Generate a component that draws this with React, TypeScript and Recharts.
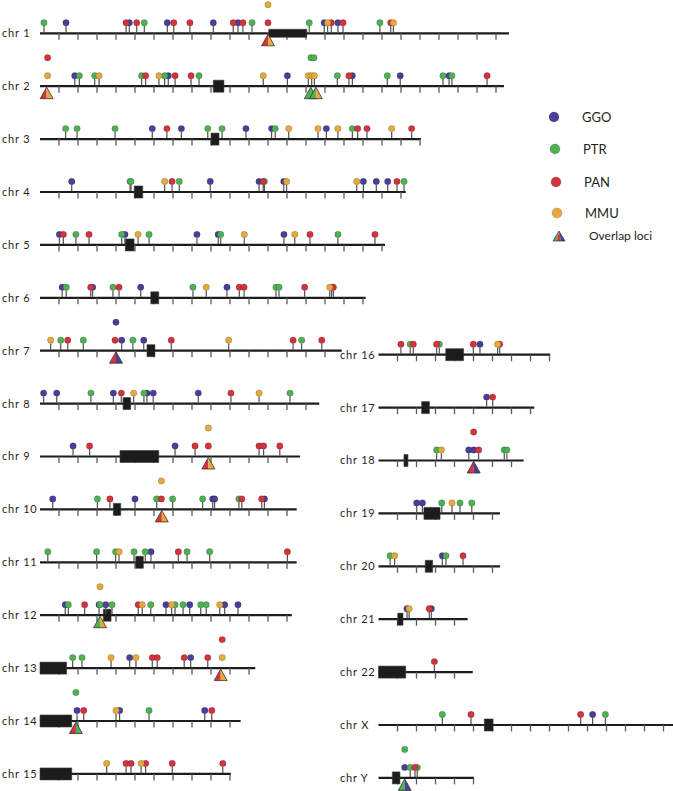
import React from 'react';
import { ScatterChart, Scatter, XAxis, YAxis, ReferenceLine, ReferenceArea, Legend } from 'recharts';

// chromosome layout (lengths / centromeres in Mb)
const LEFT_CHROMS = ['chr 1', 'chr 2', 'chr 3', 'chr 4', 'chr 5', 'chr 6', 'chr 7', 'chr 8', 'chr 9', 'chr 10', 'chr 11', 'chr 12', 'chr 13', 'chr 14', 'chr 15'];
const LEFT_LENGTHS = [246.8, 244.2, 200.5, 192.5, 181.6, 171.4, 158.8, 147, 136.8, 135.1, 135.1, 132.5, 113.3, 105.6, 100.5];
const LEFT_CENTROMERES: [number, number][] = [
  [120.4, 140.4], [91.2, 96.8], [90, 94.2], [49.6, 54.1], [44.9, 49.5], [58.3, 62.5], [56.3, 60.5], [43.7, 47.7],
  [42.1, 62.5], [38.6, 42.5], [50.4, 54.4], [33.3, 37.4], [0, 14], [0, 16.7], [0, 16.7],
];

const RIGHT_CHROMS = ['chr 16', 'chr 17', 'chr 18', 'chr 19', 'chr 20', 'chr 21', 'chr 22', 'chr X', 'chr Y'];
const RIGHT_LENGTHS = [90.4, 82, 76.4, 63.9, 64, 46.9, 49.6, 155, 50.3];
const RIGHT_CENTROMERES: [number, number][] = [
  [35.4, 44.8], [22.7, 26.8], [13.4, 15.5], [23.9, 32.4], [24.6, 28.5], [10.1, 12.9], [0, 14.3], [55.7, 60.3], [7.3, 11.3],
];

// loci per species (Mb)
const GGO_SITES: Record<string, number[]> = {
  'chr 1': [13.7, 47, 67, 91.2, 104.2, 149.6, 156.8],
  'chr 2': [18.3, 67.5, 130.2, 164.4, 189.6, 215.3],
  'chr 3': [59.1, 74.4, 108.4, 121.9, 150.7],
  'chr 4': [16.7, 89.6, 115.3, 128.3, 170.2, 177, 183],
  'chr 5': [10.2, 44.7, 82.6, 93.8, 128.4],
  'chr 6': [11.7, 27.7, 53, 98.4],
  'chr 7': [43, 54.6],
  'chr 8': [1.9, 8.8, 38.6, 56.3, 59.6, 83.3],
  'chr 9': [17.4, 71.1],
  'chr 10': [6.7, 50, 90.9, 91.9, 118.1],
  'chr 11': [58.4],
  'chr 12': [13.3, 31.1, 34.6, 66.3, 78.8, 97.2, 104.2],
  'chr 13': [47.2, 79.3],
  'chr 14': [19.5, 41.9, 86.7],
  'chr 16': [53.4],
  'chr 17': [56.9],
  'chr 18': [47.5],
  'chr 19': [20.1, 23.1],
  'chr 20': [33.6],
  'chr 21': [15, 27.8],
  'chr X': [112.7],
};
const PTR_SITES: Record<string, number[]> = {
  'chr 1': [2.1, 54.9, 111.6, 141.7, 178.9],
  'chr 2': [20.7, 28.8, 53.5, 65.6, 83.7, 156.5, 182.8, 212.1, 216.8],
  'chr 3': [13.5, 19.5, 39.5, 88.3, 95.8, 123.8, 164.4],
  'chr 4': [47.4, 47.9, 73.3, 118.1, 191.6],
  'chr 5': [18.9, 43, 57.4, 95.1, 156.8],
  'chr 6': [13.8, 38.4, 80.5, 124.2, 125.8],
  'chr 7': [10.9, 22.8, 48.9, 137.7],
  'chr 8': [26.8, 54.7, 131.6],
  'chr 10': [30.2, 61.4, 69.8, 85.6, 104.7],
  'chr 11': [4.1, 29.8, 39.8, 49.5, 55.4, 77.4, 89.3],
  'chr 12': [14.9, 37.9, 58.3, 71.1, 75.3, 84.6, 87.5],
  'chr 13': [17.2, 22.1],
  'chr 14': [57.4],
  'chr 16': [16.7, 32],
  'chr 18': [30.6, 66.2, 67.6],
  'chr 19': [33.3, 42.9, 49.1],
  'chr 20': [6.1, 35.5],
  'chr X': [33.6, 119.4],
  'chr Y': [16.7, 20.4],
};
const PAN_SITES: Record<string, number[]> = {
  'chr 1': [45.3, 50.9, 70.4, 78.9, 101.7, 106.8, 153.3, 159.5, 184.6],
  'chr 2': [55.6, 71.1, 79.5, 162.6, 235.3],
  'chr 3': [66.8, 167.2, 172.1, 195.6],
  'chr 4': [69.5, 117.5, 187.9],
  'chr 5': [12.3, 25.8, 142.1, 176.3],
  'chr 6': [26.7, 41.6, 104.9, 107.4, 139.3, 153.5, 154.4],
  'chr 7': [14.6, 69.1, 133.2, 148.3],
  'chr 8': [42.8, 100.5],
  'chr 9': [26.1, 81.6, 115.3, 117.7, 126.2],
  'chr 10': [36.8, 106.2, 116.7],
  'chr 11': [72.8, 130.2],
  'chr 12': [23.5, 51.7],
  'chr 13': [59.1, 61.7, 75.9, 88.3],
  'chr 14': [23, 90.4],
  'chr 15': [45.3, 47.9, 55.6, 69.6, 96.2],
  'chr 16': [11.8, 18.3, 30.6, 49.9, 63.8],
  'chr 17': [60.1],
  'chr 18': [52.7],
  'chr 20': [44.5],
  'chr 21': [26.7],
  'chr 22': [29.4],
  'chr X': [48.7, 106.4],
  'chr Y': [19.2],
};
const MMU_SITES: Record<string, number[]> = {
  'chr 1': [151.4, 186],
  'chr 2': [31.1, 62.6, 117.5, 141.2, 143, 144.4],
  'chr 3': [130.9, 146.3, 156.8, 185.1],
  'chr 4': [65.6, 129.8, 166.7],
  'chr 5': [51.6, 107.5, 134.1],
  'chr 6': [87.5, 152.5],
  'chr 7': [5.6, 99.3],
  'chr 8': [49.3, 115.3],
  'chr 11': [41.6],
  'chr 12': [53.8, 69.3, 94.6],
  'chr 13': [37.4, 50.5],
  'chr 14': [40],
  'chr 15': [35.1, 53.2],
  'chr 16': [62.7],
  'chr 18': [33.1],
  'chr 19': [38.7],
  'chr 20': [8.5],
  'chr 21': [16.1],
};

// circles stacked over an overlap locus: [chrom, Mb, stack level]
const GGO_STACKED: [string, number, number][] = [['chr 7', 40, 2], ['chr 18', 50.1, 1], ['chr Y', 13.8, 1]];
const PTR_STACKED: [string, number, number][] = [
  ['chr 2', 142.6, 2], ['chr 2', 144.2, 2], ['chr 12', 31.6, 1], ['chr 14', 18.9, 2], ['chr Y', 13.8, 2],
];
const PAN_STACKED: [string, number, number][] = [
  ['chr 1', 120, 1], ['chr 2', 4, 2], ['chr 7', 39.5, 1], ['chr 9', 88.6, 1], ['chr 10', 63.9, 1], ['chr 13', 95.9, 2], ['chr 18', 50.1, 2],
];
const MMU_STACKED: [string, number, number][] = [
  ['chr 1', 120, 2], ['chr 2', 4, 1], ['chr 9', 88.6, 2], ['chr 10', 63.9, 2], ['chr 12', 31.6, 2], ['chr 13', 95.9, 1],
];

// overlap loci: [chrom, Mb, species sharing it]
const OVERLAPS: [string, number, string[]][] = [
  ['chr 1', 120, ['PAN', 'MMU']],
  ['chr 2', 3.5, ['PAN', 'MMU']],
  ['chr 2', 142.5, ['PTR']],
  ['chr 2', 145.2, ['PTR', 'MMU']],
  ['chr 7', 40, ['PAN', 'GGO']],
  ['chr 9', 88.6, ['PAN', 'MMU']],
  ['chr 10', 64.1, ['PAN', 'MMU']],
  ['chr 12', 31.6, ['PTR', 'MMU']],
  ['chr 13', 95.1, ['PAN', 'MMU']],
  ['chr 14', 18.9, ['PAN', 'PTR']],
  ['chr 18', 50.1, ['PAN', 'GGO']],
  ['chr Y', 13.8, ['PTR', 'GGO']],
];

const SPECIES = ['GGO', 'PTR', 'PAN', 'MMU'];
const COLORS: Record<string, string> = { GGO: '#4a3f98', PTR: '#4fb153', PAN: '#d2343b', MMU: '#e6aa3c' };
const SITES: Record<string, Record<string, number[]>> = { GGO: GGO_SITES, PTR: PTR_SITES, PAN: PAN_SITES, MMU: MMU_SITES };
const STACKED: Record<string, [string, number, number][]> = { GGO: GGO_STACKED, PTR: PTR_STACKED, PAN: PAN_STACKED, MMU: MMU_STACKED };

const HEIGHT = 791;
const PX_PER_MB = 1.9;
const ROW_GAP = 52.9;
const LINE_COLOR = '#1c1c1c';

const makeLollipop = (color: string) => (props: any) => {
  const { cx, cy, payload } = props;
  if (cx == null || cy == null) return <g />;
  const lift = payload.lvl === 2 ? 28.5 : 10.5;
  const r = 3.2;
  return (
    <g>
      {!payload.lvl && (
        <line x1={cx} x2={cx} y1={cy - 1} y2={cy - lift + r} stroke="#505050" strokeWidth={1.2} />
      )}
      <circle cx={cx} cy={cy - lift} r={r} fill={color} stroke="rgba(0,0,0,0.35)" strokeWidth={0.5} />
    </g>
  );
};

const tickShape = (props: any) => {
  const { cx, cy } = props;
  if (cx == null || cy == null) return <g />;
  return <line x1={cx} x2={cx} y1={cy} y2={cy + 6.5} stroke="#5a5a5a" strokeWidth={1.3} />;
};

const overlapShape = (props: any) => {
  const { cx, cy, payload } = props;
  if (cx == null || cy == null) return <g />;
  const parts: string[] = payload.species;
  const half = 6.5;
  const top = cy + 1;
  const base = cy + 12.5;
  const n = parts.length;
  return (
    <g>
      {parts.map((s, k) => {
        const xa = cx - half + (2 * half * k) / n;
        const xb = cx - half + (2 * half * (k + 1)) / n;
        return <polygon key={k} points={`${cx},${top} ${xa},${base} ${xb},${base}`} fill={COLORS[s]} />;
      })}
      <polygon
        points={`${cx},${top} ${cx - half},${base} ${cx + half},${base}`}
        fill="none"
        stroke="#333"
        strokeWidth={0.8}
        strokeLinejoin="round"
      />
    </g>
  );
};

const LEGEND_ROWS = [12, 44, 77, 108, 131];

function LegendBox() {
  const names = [...SPECIES, 'Overlap loci'];
  return (
    <svg width={130} height={145} style={{ display: 'block' }}>
      {names.map((name, i) => {
        const y = LEGEND_ROWS[i];
        if (name === 'Overlap loci') {
          const cx = 16;
          return (
            <g key={name}>
              {['PTR', 'PAN', 'GGO'].map((s, k) => {
                const xa = cx - 6 + 4 * k;
                return <polygon key={s} points={`${cx},${y - 5} ${xa},${y + 5} ${xa + 4},${y + 5}`} fill={COLORS[s]} />;
              })}
              <polygon points={`${cx},${y - 5} ${cx - 6},${y + 5} ${cx + 6},${y + 5}`} fill="none" stroke="#333" strokeWidth={0.7} />
              <text x={46} y={y + 4} fontSize={12} fill="#231f20" fontFamily="Lato">{name}</text>
            </g>
          );
        }
        return (
          <g key={name}>
            <circle cx={11 + i} cy={y} r={5} fill={COLORS[name]} stroke="rgba(0,0,0,0.3)" strokeWidth={0.5} />
            <text x={39 + i} y={y + 5} fontSize={13} fill="#231f20" fontFamily="Lato">{name}</text>
          </g>
        );
      })}
    </svg>
  );
}

interface ColumnProps {
  chroms: string[];
  lengths: number[];
  centromeres: [number, number][];
  left: number;
  width: number;
  x0: number;
  row0: number;
  withLegend?: boolean;
}

function Column({ chroms, lengths, centromeres, left, width, x0, row0, withLegend }: ColumnProps) {
  const rowOf = (c: string) => chroms.indexOf(c);
  const xDomain = [-x0 / PX_PER_MB, (width - x0) / PX_PER_MB];
  const yDomain = [-row0 / ROW_GAP, (HEIGHT - row0) / ROW_GAP];
  const rows = chroms.map((_, i) => i);

  const tickData = chroms.flatMap((_, i) => {
    const out: { x: number; y: number }[] = [];
    for (let t = 10; t <= lengths[i] + 0.01; t += 10) out.push({ x: t, y: i });
    return out;
  });

  const speciesData = (sp: string) => [
    ...Object.entries(SITES[sp])
      .filter(([c]) => chroms.includes(c))
      .flatMap(([c, ps]) => ps.map((p) => ({ x: p, y: rowOf(c) }))),
    ...STACKED[sp]
      .filter(([c]) => chroms.includes(c))
      .map(([c, p, lvl]) => ({ x: p, y: rowOf(c), lvl })),
  ];

  const overlapData = OVERLAPS.filter(([c]) => chroms.includes(c)).map(([c, p, species]) => ({
    x: p,
    y: rowOf(c),
    species,
  }));

  return (
    <div style={{ position: 'absolute', left, top: 0 }}>
      <ScatterChart width={width} height={HEIGHT} margin={{ top: 0, right: 0, bottom: 0, left: 0 }}>
        <XAxis type="number" dataKey="x" domain={xDomain} allowDataOverflow hide />
        <YAxis
          type="number"
          dataKey="y"
          domain={yDomain}
          allowDataOverflow
          reversed
          mirror
          ticks={rows}
          interval={0}
          tickFormatter={(v: number) => chroms[v] ?? ''}
          axisLine={false}
          tickLine={false}
          tickSize={0}
          tickMargin={2}
          tick={{ fontSize: 11, fill: '#231f20', fontFamily: 'Lato', letterSpacing: 0.8 }}
        />
        {chroms.map((c, i) => (
          <ReferenceLine
            key={`line-${c}`}
            segment={[{ x: 0, y: i }, { x: lengths[i], y: i }]}
            stroke={LINE_COLOR}
            strokeWidth={2.2}
            ifOverflow="visible"
            zIndex={601}
          />
        ))}
        <Scatter name="ticks" data={tickData} shape={tickShape} legendType="none" isAnimationActive={false} zIndex={602} />
        {chroms.map((c, i) => {
          const h = (c === 'chr 1' ? 8 : 12) / 2 / ROW_GAP;
          return (
            <ReferenceArea
              key={`cen-${c}`}
              x1={centromeres[i][0]}
              x2={centromeres[i][1]}
              y1={i - h}
              y2={i + h}
              fill={LINE_COLOR}
              fillOpacity={1}
              stroke="#3a3a3a"
              strokeWidth={0.6}
              ifOverflow="visible"
              zIndex={603}
            />
          );
        })}
        <Scatter
          name="Overlap loci"
          data={overlapData}
          fill="#4fb153"
          shape={overlapShape}
          isAnimationActive={false}
          zIndex={604}
        />
        {SPECIES.map((sp) => (
          <Scatter
            key={sp}
            name={sp}
            data={speciesData(sp)}
            fill={COLORS[sp]}
            shape={makeLollipop(COLORS[sp])}
            isAnimationActive={false}
            zIndex={605}
          />
        ))}
        {withLegend && (
          <Legend
            layout="vertical"
            align="center"
            verticalAlign="middle"
            content={() => <LegendBox />}
            wrapperStyle={{ left: 205, top: 105, width: 130, height: 145 }}
          />
        )}
      </ScatterChart>
    </div>
  );
}

export default function App() {
  return (
    <div style={{ position: 'absolute', left: 0, top: 0, width: 673, height: HEIGHT, background: '#fff', fontFamily: 'Lato' }}>
      <Column chroms={LEFT_CHROMS} lengths={LEFT_LENGTHS} centromeres={LEFT_CENTROMERES} left={0} width={530} x0={40} row0={33.3} />
      <Column
        chroms={RIGHT_CHROMS}
        lengths={RIGHT_LENGTHS}
        centromeres={RIGHT_CENTROMERES}
        left={338}
        width={335}
        x0={40.5}
        row0={354.7}
        withLegend
      />
    </div>
  );
}
